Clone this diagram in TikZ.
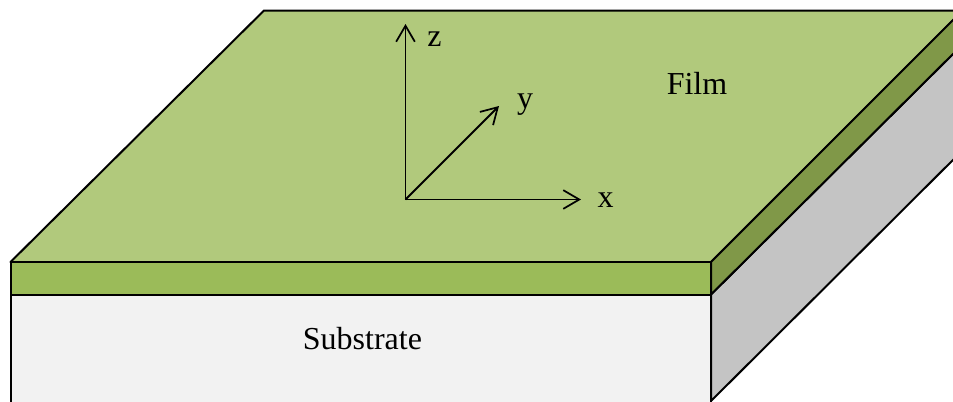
\documentclass[tikz,border=0pt]{standalone}
\usepackage{fontspec}
\setmainfont{Liberation Serif}
\usetikzlibrary{arrows.meta}
\definecolor{filmtop}{HTML}{B1C97C}
\definecolor{filmfront}{HTML}{9BBB59}
\definecolor{filmside}{HTML}{809848}
\definecolor{subfront}{HTML}{F2F2F2}
\definecolor{subside}{HTML}{C4C4C4}
\tikzset{
  face/.style={draw=black,line width=1.5pt,line join=round},
  axis/.style={draw=black,line width=1.4pt,-{Straight Barb[length=12pt,width=14pt,line width=1.3pt]}},
  lab/.style={font=\fontsize{24}{24}\selectfont,inner sep=0pt,text=black,anchor=base}
}
\begin{document}
\begin{tikzpicture}[x=0.75pt,y=-0.75pt]
\useasboundingbox (0,0) rectangle (953,401);
\clip (0,0) rectangle (953,401);
\coordinate (tfl) at (10.5,262);
\coordinate (tfr) at (711,262);
\coordinate (tbl) at (264,10.5);
\coordinate (tbr) at (963,10.5);
\coordinate (trr) at (963,10);
\coordinate (mfl) at (10.5,294.5);
\coordinate (mfr) at (711,294.5);
\coordinate (mrr) at (963,44);
\coordinate (bfl) at (10.5,420);
\coordinate (bfr) at (711,420);
\coordinate (brr) at (973,140);
\coordinate (bfc) at (711,401);
\coordinate (o) at (405.5,199.5);
\coordinate (ax) at (581,199.5);
\coordinate (ay) at (499,106);
\coordinate (az) at (405.5,24);
% substrate
\path[face,fill=subfront] (mfl) -- (mfr) -- (bfr) -- (bfl) -- cycle;
\path[face,fill=subside] (mfr) -- (mrr) -- (brr) -- (bfc) -- cycle;
% film
\path[face,fill=filmtop] (tfl) -- (tbl) -- (tbr) -- (tfr) -- cycle;
\path[face,fill=filmfront] (tfl) -- (tfr) -- (mfr) -- (mfl) -- cycle;
\path[face,fill=filmside] (tfr) -- (trr) -- (mrr) -- (mfr) -- cycle;
% axes
\draw[axis] (o) -- (az);
\draw[axis] (o) -- (ay);
\draw[axis] (o) -- (ax);
% labels
\node[lab] (lz) at (434.5,46) {z};
\node[lab] (ly) at (525,108) {y};
\node[lab] (lx) at (605.5,207) {x};
\node[lab] (film) at (697,94.5) {Film};
\node[lab] (subs) at (362.5,349) {Substrate};
\end{tikzpicture}
\end{document}
